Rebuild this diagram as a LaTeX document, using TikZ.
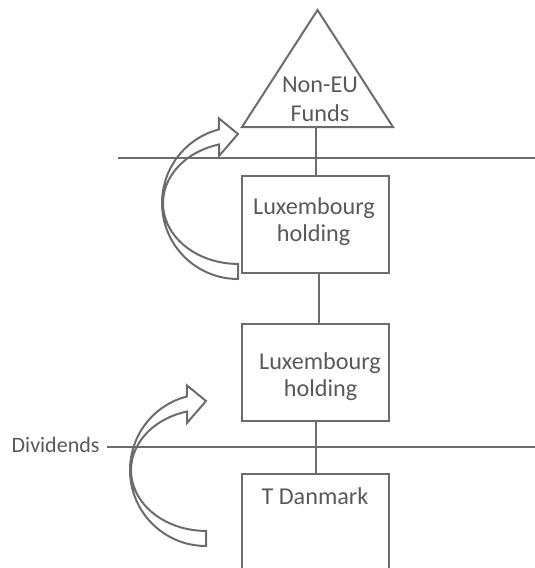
\documentclass[tikz,border=0pt]{standalone}
\usepackage{fontspec}
\setmainfont{Carlito}
\definecolor{lc}{RGB}{108,108,108}
\definecolor{tc}{RGB}{89,89,89}
\begin{document}
\begin{tikzpicture}[x=1pt,y=-1pt,
  ln/.style={draw=lc, line width=2pt},
  boxn/.style={draw=lc, line width=2pt, minimum width=147pt, minimum height=96.7pt, inner sep=0pt},
  lbl/.style={text=tc, font=\fontsize{24.2}{28}\selectfont, anchor=base, inner sep=0pt},
  curvarrow/.pic={
    \draw[ln, line join=miter] (0,0) arc[start angle=270, end angle=104.5, radius=76pt]
      -- ++(0,-11) -- (0,-145) -- (-19,-123) -- (-19,-134.5)
      arc[start angle=104.7, end angle=270, x radius=75pt, y radius=60.7pt] -- cycle;
  }]
\useasboundingbox (0,0) rectangle (535,568);

% horizontal border lines
\coordinate (hl1a) at (118,158);
\coordinate (hl1b) at (540,158);
\coordinate (hl2a) at (107,446.5);
\coordinate (hl2b) at (540,446.5);
\draw[ln] (hl1a) -- (hl1b);
\draw[ln] (hl2a) -- (hl2b);

% triangle
\coordinate (apex) at (317.5,10);
\coordinate (tril) at (242,127);
\coordinate (trir) at (393,127);
\coordinate (trib) at (316,127);
\draw[ln, line join=miter] (apex) -- (trir) -- (tril) -- cycle;
\node[lbl] (nonEU) at (320,92.7) {Non-EU};
\node[lbl] (funds) at (320,121.7) {Funds};

% boxes
\node[boxn] (lux1) at (315.8,224.4) {};
\node[boxn] (lux2) at (315.5,372.3) {};
\node[boxn, minimum height=130pt, anchor=north] (tdk) at (315.5,472.7) {};

\node[lbl] (lux1a) at (314,214) {Luxembourg};
\node[lbl] (lux1b) at (313.5,241.7) {holding};
\node[lbl] (lux2a) at (320,369) {Luxembourg};
\node[lbl] (lux2b) at (320.5,396.7) {holding};
\node[lbl] (tdkt) at (315,504) {T Danmark};
\node[lbl, anchor=base west, font=\fontsize{22}{26}\selectfont] (div) at (11.5,452.3) {Dividends};

% connectors
\draw[ln] (trib) -- (trib |- lux1.north);
\draw[ln] ([xshift=3.2pt]lux1.south) -- ([xshift=3.2pt]lux1.south |- lux2.north);
\draw[ln] (lux2.south) -- (lux2.south |- tdk.north);

% curved block arrows
\pic at (238,279) {curvarrow};
\pic at (206,546) {curvarrow};
\end{tikzpicture}
\end{document}
